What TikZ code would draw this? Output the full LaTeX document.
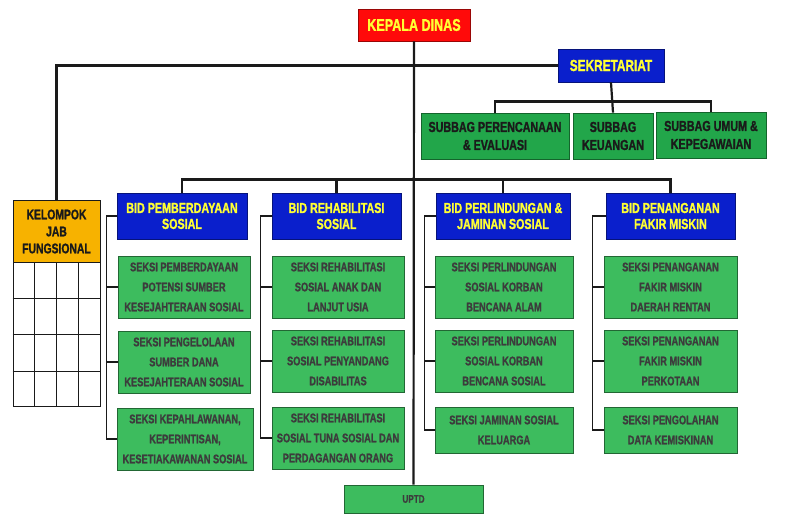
\documentclass[tikz,border=0pt]{standalone}
\usepackage{fontspec}
\setmainfont[FakeStretch=0.74, BoldFeatures={FakeBold=1.2}]{Liberation Sans}
\usetikzlibrary{calc}
\definecolor{dinasInk}{HTML}{1A1A1A}
\definecolor{dinasRed}{HTML}{FF0A0A}
\definecolor{dinasBlue}{HTML}{0A1FCC}
\definecolor{dinasYellow}{HTML}{FFFF33}
\definecolor{dinasGreen}{HTML}{22A64A}
\definecolor{dinasLeaf}{HTML}{3DBC5E}
\definecolor{dinasOrange}{HTML}{F7B200}

\begin{document}
\begin{tikzpicture}[
    x=1pt, y=-1pt,
    dinas link/.style={draw=dinasInk, line width=2.2pt},
    dinas tick/.style={draw=dinasInk, line width=1.7pt},
    dinas cell/.style={draw=dinasInk, line width=1pt},
    dinas top/.style={draw=dinasRed!60!black, fill=dinasRed, line width=0.8pt, text=dinasYellow, font=\bfseries\fontsize{17}{19}\selectfont},
    dinas head/.style={draw=dinasBlue!60!black, fill=dinasBlue, line width=0.8pt, text=dinasYellow, align=center, minimum height=46pt, font=\bfseries\fontsize{14.5}{16}\selectfont},
    dinas sub/.style={draw=dinasGreen!60!black, fill=dinasGreen, line width=0.8pt, text=dinasInk, align=center, minimum height=46pt, font=\bfseries\fontsize{14.5}{18}\selectfont},
    dinas seksi/.style={draw=dinasLeaf!55!black, fill=dinasLeaf, line width=0.8pt, text=dinasInk!85, align=center, minimum height=62pt, font=\bfseries\fontsize{12.5}{20}\selectfont},
    dinas jab/.style={draw=dinasInk, fill=dinasOrange, line width=0.9pt, text=dinasInk, align=center, font=\bfseries\fontsize{14}{17}\selectfont},
]
  \useasboundingbox (0,0) rectangle (788,521);

  % Pimpinan dan sekretariat.
  \node[dinas top, minimum width=112pt, minimum height=32pt] (kadis) at (414,25) {KEPALA DINAS};
  \node[dinas head, minimum width=106pt, minimum height=33pt, font=\bfseries\fontsize{16}{18}\selectfont] (sekre) at (611,65.5) {SEKRETARIAT};
  \node[dinas sub, minimum width=148pt] (subbag-1) at (495,136) {SUBBAG PERENCANAAN\\\& EVALUASI};
  \node[dinas sub, minimum width=80pt] (subbag-2) at (613,136) {SUBBAG\\KEUANGAN};
  \node[dinas sub, minimum width=110pt] (subbag-3) at (711,135) {SUBBAG UMUM \&\\KEPEGAWAIAN};

  % Kelompok jabatan fungsional.
  \node[dinas jab, minimum width=87pt, minimum height=63pt] (jab) at (56.5,231.5) {KELOMPOK\\JAB\\FUNGSIONAL};
  \node[dinas cell, fill=white, minimum width=87pt, minimum height=144pt] (jab-grid) at (56.5,335) {};
  \draw[dinas cell] ($(jab-grid.north west)!0.25!(jab-grid.north east)$) -- ($(jab-grid.south west)!0.25!(jab-grid.south east)$);
  \draw[dinas cell] ($(jab-grid.north west)!0.5!(jab-grid.north east)$) -- ($(jab-grid.south west)!0.5!(jab-grid.south east)$);
  \draw[dinas cell] ($(jab-grid.north west)!0.75!(jab-grid.north east)$) -- ($(jab-grid.south west)!0.75!(jab-grid.south east)$);
  \draw[dinas cell] ($(jab-grid.north west)!0.25!(jab-grid.south west)$) -- ($(jab-grid.north east)!0.25!(jab-grid.south east)$);
  \draw[dinas cell] ($(jab-grid.north west)!0.5!(jab-grid.south west)$) -- ($(jab-grid.north east)!0.5!(jab-grid.south east)$);
  \draw[dinas cell] ($(jab-grid.north west)!0.75!(jab-grid.south west)$) -- ($(jab-grid.north east)!0.75!(jab-grid.south east)$);

  % Bidang.
  \node[dinas head, minimum width=130pt] (bid-1) at (182,216) {BID PEMBERDAYAAN\\SOSIAL};
  \node[dinas head, minimum width=129pt] (bid-2) at (336.5,216) {BID REHABILITASI\\SOSIAL};
  \node[dinas head, minimum width=134pt] (bid-3) at (503,216) {BID PERLINDUNGAN \&\\JAMINAN SOSIAL};
  \node[dinas head, minimum width=129pt] (bid-4) at (670.5,216) {BID PENANGANAN\\FAKIR MISKIN};

  % Seksi.
  \node[dinas seksi, minimum width=132pt] (seksi-1a) at (184,287) {SEKSI PEMBERDAYAAN\\POTENSI SUMBER\\KESEJAHTERAAN SOSIAL};
  \node[dinas seksi, minimum width=132pt] (seksi-1b) at (184,362) {SEKSI PENGELOLAAN\\SUMBER DANA\\KESEJAHTERAAN SOSIAL};
  \node[dinas seksi, minimum width=136pt] (seksi-1c) at (185,439) {SEKSI KEPAHLAWANAN,\\KEPERINTISAN,\\KESETIAKAWANAN SOSIAL};
  \node[dinas seksi, minimum width=132pt] (seksi-2a) at (338,287) {SEKSI REHABILITASI\\SOSIAL ANAK DAN\\LANJUT USIA};
  \node[dinas seksi, minimum width=132pt] (seksi-2b) at (338,361) {SEKSI REHABILITASI\\SOSIAL PENYANDANG\\DISABILITAS};
  \node[dinas seksi, minimum width=132pt] (seksi-2c) at (338,438) {SEKSI REHABILITASI\\SOSIAL TUNA SOSIAL DAN\\PERDAGANGAN ORANG};
  \node[dinas seksi, minimum width=138pt] (seksi-3a) at (504,287) {SEKSI PERLINDUNGAN\\SOSIAL KORBAN\\BENCANA ALAM};
  \node[dinas seksi, minimum width=138pt] (seksi-3b) at (504,361) {SEKSI PERLINDUNGAN\\SOSIAL KORBAN\\BENCANA SOSIAL};
  \node[dinas seksi, minimum width=138pt, minimum height=46pt] (seksi-3c) at (504,430) {SEKSI JAMINAN SOSIAL\\KELUARGA};
  \node[dinas seksi, minimum width=133pt] (seksi-4a) at (670.5,287) {SEKSI PENANGANAN\\FAKIR MISKIN\\DAERAH RENTAN};
  \node[dinas seksi, minimum width=133pt] (seksi-4b) at (670.5,361) {SEKSI PENANGANAN\\FAKIR MISKIN\\PERKOTAAN};
  \node[dinas seksi, minimum width=133pt, minimum height=46pt] (seksi-4c) at (670.5,430) {SEKSI PENGOLAHAN\\DATA KEMISKINAN};

  \node[dinas seksi, minimum width=139pt, minimum height=28pt, font=\bfseries\fontsize{11}{13}\selectfont] (uptd) at (413.5,499) {UPTD};

  % Garis komando.
  \draw[dinas link] (kadis.south) -- (uptd.north);
  \draw[dinas link] (sekre.west) -| (jab.north);
  \draw[dinas link] (sekre.south) -- (subbag-2.north);
  \draw[dinas link] (subbag-1.north) -- ++(0,-11) -| (subbag-3.north);
  \draw[dinas link] (bid-1.north) -- ++(0,-13) -| (bid-4.north);
  \draw[dinas link] (bid-2.north) -- ++(0,-13);
  \draw[dinas link] (bid-3.north) -- ++(0,-13);

  % Garis seksi.
  \draw[dinas tick] (bid-1.west) -- ++(-10,0) coordinate (rail-1) |- (seksi-1c.west);
  \draw[dinas tick] (seksi-1a.west) -- (seksi-1a.west -| rail-1);
  \draw[dinas tick] (seksi-1b.west) -- (seksi-1b.west -| rail-1);
  \draw[dinas tick] (bid-2.west) -- ++(-11,0) coordinate (rail-2) |- (seksi-2c.west);
  \draw[dinas tick] (seksi-2a.west) -- (seksi-2a.west -| rail-2);
  \draw[dinas tick] (seksi-2b.west) -- (seksi-2b.west -| rail-2);
  \draw[dinas tick] (bid-3.west) -- ++(-11,0) coordinate (rail-3) |- (seksi-3c.west);
  \draw[dinas tick] (seksi-3a.west) -- (seksi-3a.west -| rail-3);
  \draw[dinas tick] (seksi-3b.west) -- (seksi-3b.west -| rail-3);
  \draw[dinas tick] (bid-4.west) -- ++(-13,0) coordinate (rail-4) |- (seksi-4c.west);
  \draw[dinas tick] (seksi-4a.west) -- (seksi-4a.west -| rail-4);
  \draw[dinas tick] (seksi-4b.west) -- (seksi-4b.west -| rail-4);
\end{tikzpicture}
\end{document}
